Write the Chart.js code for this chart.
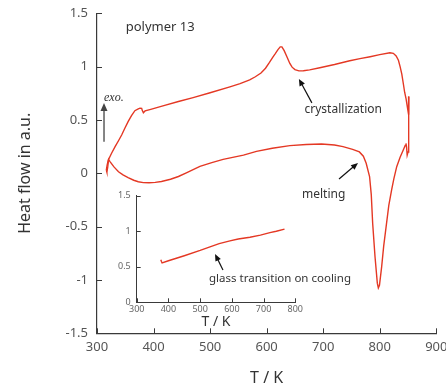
<!DOCTYPE html>
<html>
<head>
<meta charset="utf-8">
<script src="https://cdn.jsdelivr.net/npm/chart.js@4.4.1/dist/chart.umd.min.js"></script>
<style>
  html, body { margin: 0; padding: 0; background: #fff; }
  #wrap { position: relative; width: 446px; height: 385px; }
  #wrap canvas { position: absolute; left: 0; top: 0; }
</style>
</head>
<body>
<div id="wrap">
  <canvas id="main" width="446" height="385"></canvas>
  <canvas id="inset" width="446" height="385"></canvas>
</div>
<script>
// DSC loop of polymer 13 (T in K, heat flow in a.u.)
// heating branch: from the low end up through the melting dip
const heatT = [316.5, 317.5, 319, 320.5, 323, 330, 338, 346, 355, 365, 373, 382, 392, 403, 414, 430, 444, 458,
  470, 482, 503, 523, 559, 582, 610, 641, 670, 697, 720, 735, 752, 764, 771, 776, 782, 785, 787.5, 791.6,
  795.7, 797.5, 799.5, 803.4, 807, 812, 816, 821, 825, 830, 836, 841.6, 845, 846.4, 847.5, 848.5, 850, 851, 851.3];
const heatQ = [0.03, 0.01, 0.06, 0.13, 0.11, 0.06, 0.015, -0.015, -0.04, -0.065, -0.079, -0.087, -0.088, -0.085, -0.077, -0.056, -0.03, 0.005,
  0.035, 0.065, 0.1, 0.13, 0.17, 0.205, 0.235, 0.259, 0.27, 0.275, 0.265, 0.25, 0.225, 0.2, 0.16, 0.094, -0.03, -0.2, -0.47, -0.78,
  -1.03, -1.075, -1.05, -0.875, -0.68, -0.47, -0.3, -0.156, -0.05, 0.062, 0.15, 0.218, 0.26, 0.28, 0.24, 0.17, 0.2, 0.45, 0.72];

// cooling branch: from the high end back down, with the crystallization peak
const coolT = [851.3, 851, 849.5, 846.5, 844, 842, 839, 836, 833, 829, 824, 818, 800, 783, 765, 747, 720, 694, 676,
  665, 657, 650, 645, 641, 636, 631, 627, 624, 620, 615, 611, 605, 598, 590, 580, 570, 553, 535, 500, 470, 444,
  415, 395, 385, 382, 380, 379, 376, 373, 367, 361, 355, 349, 343.6, 338, 332, 326, 320, 318, 316.5];
const coolQ = [0.72, 0.55, 0.6, 0.7, 0.76, 0.83, 0.93, 1.0, 1.06, 1.1, 1.125, 1.13, 1.112, 1.093, 1.075, 1.055, 1.02, 0.99, 0.97,
  0.962, 0.96, 0.972, 0.995, 1.03, 1.09, 1.15, 1.185, 1.185, 1.16, 1.12, 1.09, 1.04, 0.985, 0.94, 0.905, 0.875, 0.84, 0.81, 0.755, 0.71, 0.673,
  0.63, 0.6, 0.585, 0.568, 0.59, 0.609, 0.61, 0.603, 0.587, 0.54, 0.484, 0.42, 0.359, 0.305, 0.25, 0.19, 0.125, 0.08, 0.03];

// inset: glass transition on cooling
const glassT = [376, 378, 380, 400, 450, 500, 531, 560, 594, 620, 657, 690, 720, 740, 766];
const glassQ = [0.6, 0.575, 0.555, 0.585, 0.655, 0.73, 0.78, 0.825, 0.865, 0.89, 0.915, 0.945, 0.98, 1.0, 1.03];

const mainXTicks = [300, 400, 500, 600, 700, 800, 900];
const mainYTicks = [-1.5, -1, -0.5, 0, 0.5, 1, 1.5];
const insetXTicks = [300, 400, 500, 600, 700, 800];
const insetYTicks = [0, 0.5, 1, 1.5];

const RED = 'rgb(228, 56, 36)';
const AXIS = '#3a3a3a';
const TXT = '#333';

const toPoints = (xs, ys) => xs.map((x, i) => ({ x, y: ys[i] }));

function drawArrow(ctx, x1, y1, x2, y2, len, half, color, width) {
  const ang = Math.atan2(y2 - y1, x2 - x1);
  ctx.strokeStyle = color;
  ctx.fillStyle = color;
  ctx.lineWidth = width;
  ctx.beginPath();
  ctx.moveTo(x1, y1);
  ctx.lineTo(x2 - Math.cos(ang) * len * 0.8, y2 - Math.sin(ang) * len * 0.8);
  ctx.stroke();
  ctx.beginPath();
  ctx.moveTo(x2, y2);
  ctx.lineTo(x2 - Math.cos(ang) * len - Math.sin(ang) * half, y2 - Math.sin(ang) * len + Math.cos(ang) * half);
  ctx.lineTo(x2 - Math.cos(ang) * len + Math.sin(ang) * half, y2 - Math.sin(ang) * len - Math.cos(ang) * half);
  ctx.closePath();
  ctx.fill();
}

// ticks drawn on the inside of the axes, as in the original plot
const inwardTicks = {
  id: 'inwardTicks',
  afterDatasetsDraw(chart, args, opts) {
    const { ctx, scales: { x, y } } = chart;
    ctx.save();
    ctx.strokeStyle = AXIS;
    ctx.lineWidth = 1;
    x.ticks.forEach(t => {
      const px = Math.round(x.getPixelForValue(t.value)) + 0.5;
      ctx.beginPath();
      ctx.moveTo(px, y.bottom);
      ctx.lineTo(px, y.bottom - opts.length);
      ctx.stroke();
    });
    y.ticks.forEach(t => {
      const py = Math.round(y.getPixelForValue(t.value)) + 0.5;
      ctx.beginPath();
      ctx.moveTo(x.left, py);
      ctx.lineTo(x.left + opts.length, py);
      ctx.stroke();
    });
    ctx.restore();
  }
};

// text labels and arrows placed in data coordinates
const notes = {
  id: 'notes',
  afterDraw(chart, args, opts) {
    const { ctx, scales: { x, y } } = chart;
    ctx.save();
    (opts.texts || []).forEach(n => {
      ctx.font = n.font;
      ctx.fillStyle = n.color || TXT;
      ctx.textAlign = 'left';
      ctx.textBaseline = 'middle';
      ctx.fillText(n.text, x.getPixelForValue(n.x), y.getPixelForValue(n.y));
    });
    (opts.arrows || []).forEach(a => {
      drawArrow(ctx,
        x.getPixelForValue(a.from[0]), y.getPixelForValue(a.from[1]),
        x.getPixelForValue(a.to[0]), y.getPixelForValue(a.to[1]),
        a.len || 7, a.half || 3, a.color || '#111', a.width || 1.2);
    });
    ctx.restore();
  }
};

function fixedX(height) {
  return scale => { scale.height = height; scale.paddingLeft = 0; scale.paddingRight = 0; };
}
function fixedY(width) {
  return scale => { scale.width = width; scale.paddingTop = 0; scale.paddingBottom = 0; };
}

new Chart(document.getElementById('main'), {
  type: 'scatter',
  data: {
    datasets: [
      { data: toPoints(heatT, heatQ), showLine: true, borderColor: RED, borderWidth: 1.4, pointRadius: 0, tension: 0 },
      { data: toPoints(coolT, coolQ), showLine: true, borderColor: RED, borderWidth: 1.4, pointRadius: 0, tension: 0 }
    ]
  },
  options: {
    responsive: false,
    animation: false,
    layout: { padding: { left: 0, top: 13.3, right: 9.7, bottom: 0 } },
    scales: {
      x: {
        type: 'linear',
        min: 300, max: 900,
        afterBuildTicks: s => { s.ticks = mainXTicks.map(v => ({ value: v })); },
        afterFit: fixedX(51.7),
        grid: { drawOnChartArea: false, drawTicks: false },
        border: { display: true, color: AXIS, width: 1.2 },
        ticks: { padding: 6, color: '#555', font: { family: 'Noto Sans', size: 13 }, callback: v => String(v), maxRotation: 0 },
        title: { display: true, text: 'T / K', color: TXT, font: { family: 'Noto Sans', size: 16, lineHeight: 1 }, padding: { top: 0, bottom: -1 } }
      },
      y: {
        type: 'linear',
        min: -1.5, max: 1.5,
        afterBuildTicks: s => { s.ticks = mainYTicks.map(v => ({ value: v })); },
        afterFit: fixedY(97),
        grid: { drawOnChartArea: false, drawTicks: false },
        border: { display: true, color: AXIS, width: 1.2 },
        ticks: { padding: 9, color: '#555', font: { family: 'Noto Sans', size: 13 }, callback: v => String(v) },
        title: { display: true, text: 'Heat flow in a.u.', color: TXT, font: { family: 'Noto Sans', size: 16, lineHeight: 1.2 }, padding: { top: 16, bottom: 0 } }
      }
    },
    plugins: {
      legend: { display: false },
      tooltip: { enabled: false },
      inwardTicks: { length: 5 },
      notes: {
        texts: [
          { text: 'polymer 13', x: 350.8, y: 1.368, font: '13px "Noto Sans"' },
          { text: 'exo.', x: 312.4, y: 0.71, font: 'italic 12px "Liberation Serif"' },
          { text: 'crystallization', x: 667, y: 0.593, font: '12px "Noto Sans"' },
          { text: 'melting', x: 662.5, y: -0.203, font: '12px "Noto Sans"' }
        ],
        arrows: [
          { from: [312.4, 0.296], to: [312.4, 0.66], len: 8, half: 3.5, color: '#444', width: 1.3 },
          { from: [680, 0.66], to: [657, 0.885] },
          { from: [728, -0.053], to: [761.5, 0.097] }
        ]
      }
    }
  },
  plugins: [inwardTicks, notes]
});

new Chart(document.getElementById('inset'), {
  type: 'scatter',
  data: {
    datasets: [
      { data: toPoints(glassT, glassQ), showLine: true, borderColor: RED, borderWidth: 1.4, pointRadius: 0, tension: 0 }
    ]
  },
  options: {
    responsive: false,
    animation: false,
    layout: { padding: { left: 106.7, top: 195.7, right: 150.7, bottom: 52.7 } },
    scales: {
      x: {
        type: 'linear',
        min: 300, max: 800,
        afterBuildTicks: s => { s.ticks = insetXTicks.map(v => ({ value: v })); },
        afterFit: fixedX(30),
        grid: { drawOnChartArea: false, drawTicks: false },
        border: { display: true, color: AXIS, width: 1 },
        ticks: { padding: 2, color: '#666', font: { family: 'Noto Sans', size: 9 }, callback: v => String(v), maxRotation: 0 },
        title: { display: true, text: 'T / K', color: TXT, font: { family: 'Noto Sans', size: 14, lineHeight: 1 }, padding: { top: 0, bottom: 3 } }
      },
      y: {
        type: 'linear',
        min: 0, max: 1.5,
        afterBuildTicks: s => { s.ticks = insetYTicks.map(v => ({ value: v })); },
        afterFit: fixedY(30),
        grid: { drawOnChartArea: false, drawTicks: false },
        border: { display: true, color: AXIS, width: 1 },
        ticks: { padding: 6, color: '#666', font: { family: 'Noto Sans', size: 9 }, callback: v => String(v) }
      }
    },
    plugins: {
      legend: { display: false },
      tooltip: { enabled: false },
      inwardTicks: { length: 4 },
      notes: {
        texts: [
          { text: 'glass transition on cooling', x: 528, y: 0.328, font: '11.5px "Noto Sans"' }
        ],
        arrows: [
          { from: [572, 0.454], to: [547, 0.68] }
        ]
      }
    }
  },
  plugins: [inwardTicks, notes]
});
</script>
</body>
</html>
